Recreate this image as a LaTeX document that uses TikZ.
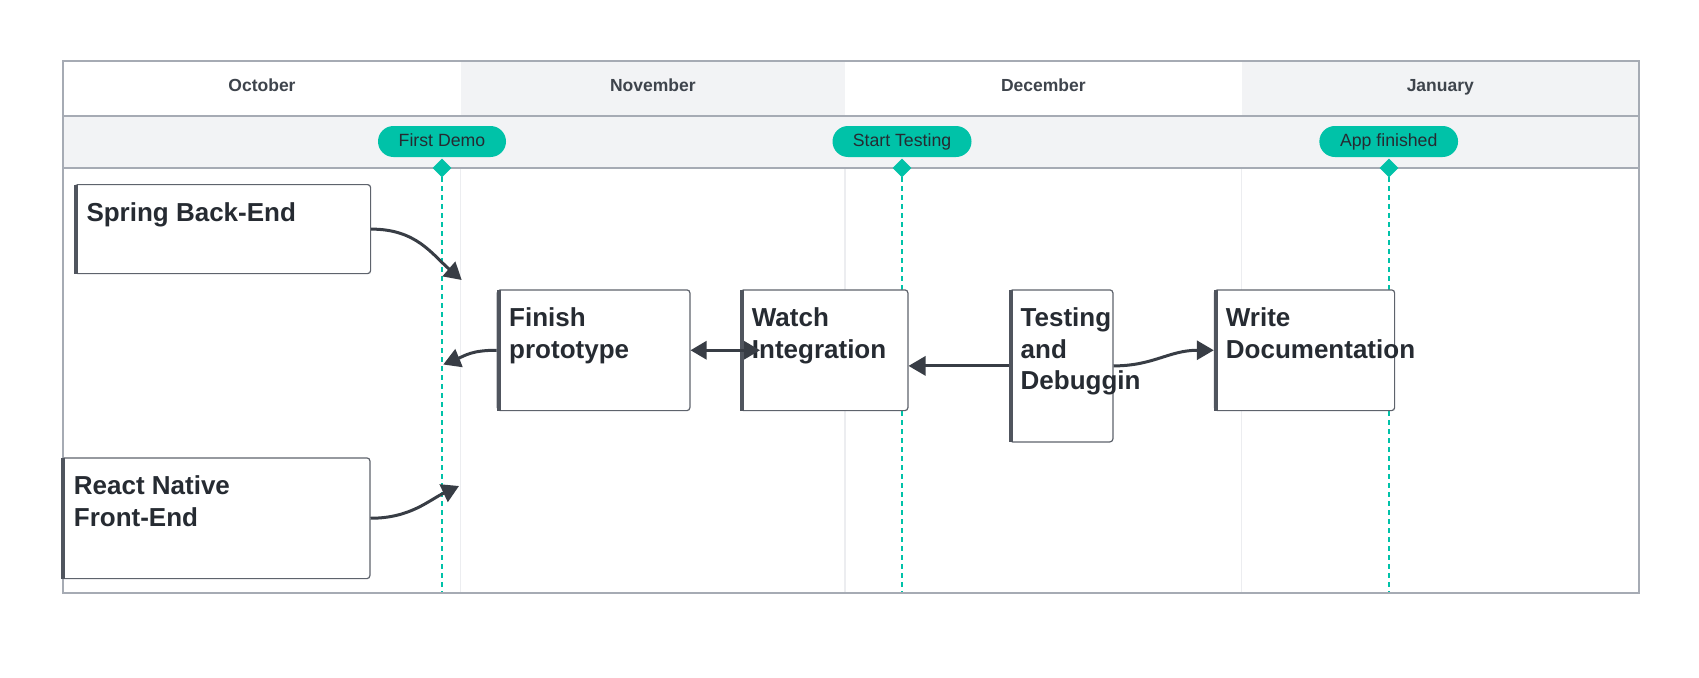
\documentclass[tikz,border=0pt]{standalone}
\usepackage{fontspec}
\setmainfont{Liberation Sans}
\usetikzlibrary{arrows.meta,shapes.geometric,calc}
\definecolor{hdrgray}{HTML}{F2F3F5}
\definecolor{framec}{HTML}{A6ABB4}
\definecolor{divc}{HTML}{ECEDF0}
\definecolor{boxc}{HTML}{5E636C}
\definecolor{barc}{HTML}{50555E}
\definecolor{arrc}{HTML}{383D45}
\definecolor{tealc}{HTML}{00C2A8}
\definecolor{txtc}{HTML}{262B32}
\definecolor{monthc}{HTML}{3E444C}
\begin{document}
\begin{tikzpicture}[x=1pt,y=-1pt,
  month/.style={font=\fontsize{17.5}{20}\selectfont\bfseries, text=monthc, inner sep=0pt, anchor=base},
  pill/.style={fill=tealc, rounded corners=15.5pt, minimum height=31pt, inner sep=0pt,
    font=\fontsize{17.7}{20}\selectfont, text=txtc, text height=12.7pt, text depth=3.5pt},
  msdiamond/.style={diamond, fill=tealc, minimum width=19pt, minimum height=19pt, inner sep=0pt},
  msline/.style={draw=tealc, line width=2pt, dash pattern=on 5pt off 4pt},
  divline/.style={draw=divc, line width=1.2pt},
  taskbox/.style={draw=boxc, line width=1.2pt, fill=white, rounded corners=3pt, anchor=north west, inner sep=0pt},
  leftbar/.style={draw=barc, line width=4pt},
  tasktext/.style={font=\fontsize{26}{31.5}\selectfont\bfseries, text=txtc, inner sep=0pt, anchor=north west, align=left},
  conn/.style={draw=arrc, line width=3pt, -{Triangle[length=17pt,width=19pt]}},
  dconn/.style={draw=arrc, line width=3pt, {Triangle[length=16pt,width=18pt]}-{Triangle[length=16pt,width=18pt]}}
]
\useasboundingbox (0,0) rectangle (1699,677);
% header backgrounds
\fill[hdrgray] (460.7,60.7) rectangle (845,116);
\fill[hdrgray] (1241.5,60.7) rectangle (1639,116);
\fill[hdrgray] (63,116) rectangle (1639,168);
% column dividers in lane
\draw[divline] (460.7,168) -- (460.7,592);
\draw[divline] (845,168) -- (845,592);
\draw[divline] (1241.5,168) -- (1241.5,592);
% frame
\draw[framec, line width=2pt] (63,60.7) rectangle (1639,592.7);
\draw[framec, line width=2pt] (63,116) -- (1639,116);
\draw[framec, line width=2pt] (63,168) -- (1639,168);
% months
\node[month] (oct) at (262,91.7) {October};
\node[month] (nov) at (652.8,91.7) {November};
\node[month] (dec) at (1043.3,91.7) {December};
\node[month] (jan) at (1440.3,91.7) {January};
% milestone lines
\coordinate (m1) at (442,168);
\coordinate (m1b) at (442,592);
\coordinate (m2) at (902,168);
\coordinate (m2b) at (902,592);
\coordinate (m3) at (1389,168);
\coordinate (m3b) at (1389,592);
\draw[msline] (m1) -- (m1b);
\draw[msline] (m2) -- (m2b);
\draw[msline] (m3) -- (m3b);
\node[msdiamond] (d1) at (m1) {};
\node[msdiamond] (d2) at (m2) {};
\node[msdiamond] (d3) at (m3) {};
\node[pill, minimum width=128pt] (p1) at (442,141.5) {First Demo};
\node[pill, minimum width=139pt] (p2) at (902,141.5) {Start Testing};
\node[pill, minimum width=138.7pt] (p3) at (1388.7,141.5) {App finished};
% task boxes
\node[taskbox, minimum width=295.7pt, minimum height=89pt] (spring) at (74.3,184) {};
\node[taskbox, minimum width=308.3pt, minimum height=120.7pt] (react) at (61,457.3) {};
\node[taskbox, minimum width=192.6pt, minimum height=120.7pt] (finish) at (496.7,289.3) {};
\node[taskbox, minimum width=167.3pt, minimum height=120.7pt] (watch) at (740,289.3) {};
\node[taskbox, minimum width=103.3pt, minimum height=152pt] (testing) at (1009,289.3) {};
\node[taskbox, minimum width=180.2pt, minimum height=120.7pt] (write) at (1213.8,289.3) {};
\foreach \b in {spring,react,finish,watch,testing,write}{
  \draw[leftbar] ($(\b.north west)+(2,0.6)$) -- ($(\b.south west)+(2,-0.6)$);
}
\node[tasktext] (springt) at ($(spring.north west)+(12,18.3)$) {Spring Back-End};
\node[tasktext] (reactt) at ($(react.north west)+(12.7,18.6)$) {React Native\\Front-End};
\node[tasktext] (finisht) at ($(finish.north west)+(12.3,18.6)$) {Finish\\prototype};
\node[tasktext] (watcht) at ($(watch.north west)+(11.7,18.6)$) {Watch\\Integration};
\node[tasktext] (testingt) at ($(testing.north west)+(11.5,18.6)$) {Testing\\and\\Debuggin};
\node[tasktext] (writet) at ($(write.north west)+(11.9,18.6)$) {Write\\Documentation};
% connectors
\coordinate (e1) at (461.7,280);
\coordinate (e2) at (459,486);
\coordinate (e3) at (443.3,364.5);
\draw[conn] (spring.east) .. controls +(45,0) and +(-30,-26) .. (e1);
\draw[conn] (react.east) .. controls +(40,0) and +(-30,14) .. (e2);
\draw[conn] (finish.west) .. controls +(-25,0) and +(22,-9) .. (e3);
\draw[dconn] (finish.east) -- ($(watch.west)+(20,0)$);
\draw[conn] (testing.west) -- (watch.east |- testing.west);
\draw[conn] (testing.east) .. controls +(40,0) and +(-45,0) .. (write.west);
\end{tikzpicture}
\end{document}
